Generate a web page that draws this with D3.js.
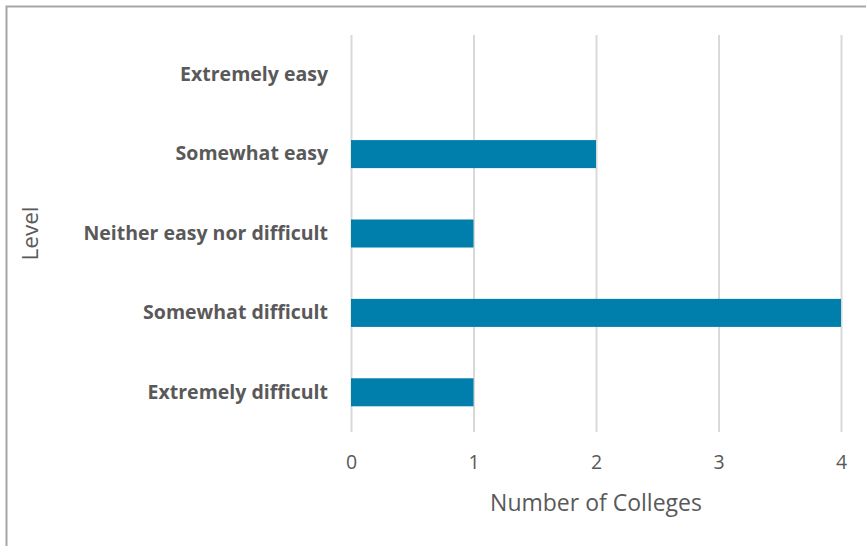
<!DOCTYPE html>
<html>
<head>
<meta charset="utf-8">
<script src="https://cdn.jsdelivr.net/npm/d3@7"></script>
<style>
  html, body { margin: 0; padding: 0; background: #fff; }
  svg { display: block; }
</style>
</head>
<body>
<svg id="chart" width="866" height="546"></svg>
<script>
const categories = ["Extremely easy", "Somewhat easy", "Neither easy nor difficult", "Somewhat difficult", "Extremely difficult"];
const values = [0, 2, 1, 4, 1];
const xTicks = [0, 1, 2, 3, 4];
const xTitle = "Number of Colleges";
const yTitle = "Level";

const svg = d3.select("#chart");
const W = 866, H = 546;
const margin = { left: 351, right: 25, top: 35, bottom: 114 };

svg.append("rect").attr("x", 6.5).attr("y", 6.5).attr("width", W + 10).attr("height", H + 10)
  .attr("fill", "#fff").attr("stroke", "#a6a6a6").attr("stroke-width", 2);

const x = d3.scaleLinear().domain([0, 4]).range([margin.left, W - margin.right]);
const y = d3.scaleBand().domain(categories).range([margin.top, H - margin.bottom]).paddingInner(0.647).paddingOuter(0.3235);

const font = "'Open Sans', sans-serif";

// gridlines
const xAxis = d3.axisBottom(x).tickValues(xTicks).tickSize(-(H - margin.bottom - margin.top)).tickFormat(d3.format("d")).tickPadding(23);
const gx = svg.append("g").attr("transform", `translate(0,${H - margin.bottom})`).call(xAxis);
gx.select(".domain").remove();
gx.selectAll(".tick line").attr("stroke", "#d9d9d9").attr("stroke-width", 2);
gx.selectAll(".tick text").attr("fill", "#595959").attr("font-family", font).attr("font-size", 19.5);

// bars
svg.append("g").selectAll("rect").data(categories).join("rect")
  .attr("x", x(0))
  .attr("y", d => y(d))
  .attr("width", (d, i) => x(values[i]) - x(0))
  .attr("height", y.bandwidth())
  .attr("fill", "#007fac");

// y axis labels
const yAxis = d3.axisLeft(y).tickSize(0).tickPadding(23);
const gy = svg.append("g").attr("transform", `translate(${margin.left},0)`).call(yAxis);
gy.select(".domain").remove();
gy.selectAll(".tick text").attr("fill", "#595959").attr("font-family", font).attr("font-size", 19.5).attr("font-weight", "bold");

// titles
svg.append("text").attr("x", (x(0) + x(4)) / 2).attr("y", 511).attr("text-anchor", "middle")
  .attr("fill", "#595959").attr("font-family", font).attr("font-size", 23).text(xTitle);
svg.append("text").attr("transform", `translate(38,${(margin.top + H - margin.bottom) / 2}) rotate(-90)`)
  .attr("text-anchor", "middle").attr("fill", "#595959").attr("font-family", font).attr("font-size", 22.5).text(yTitle);
</script>
</body>
</html>
